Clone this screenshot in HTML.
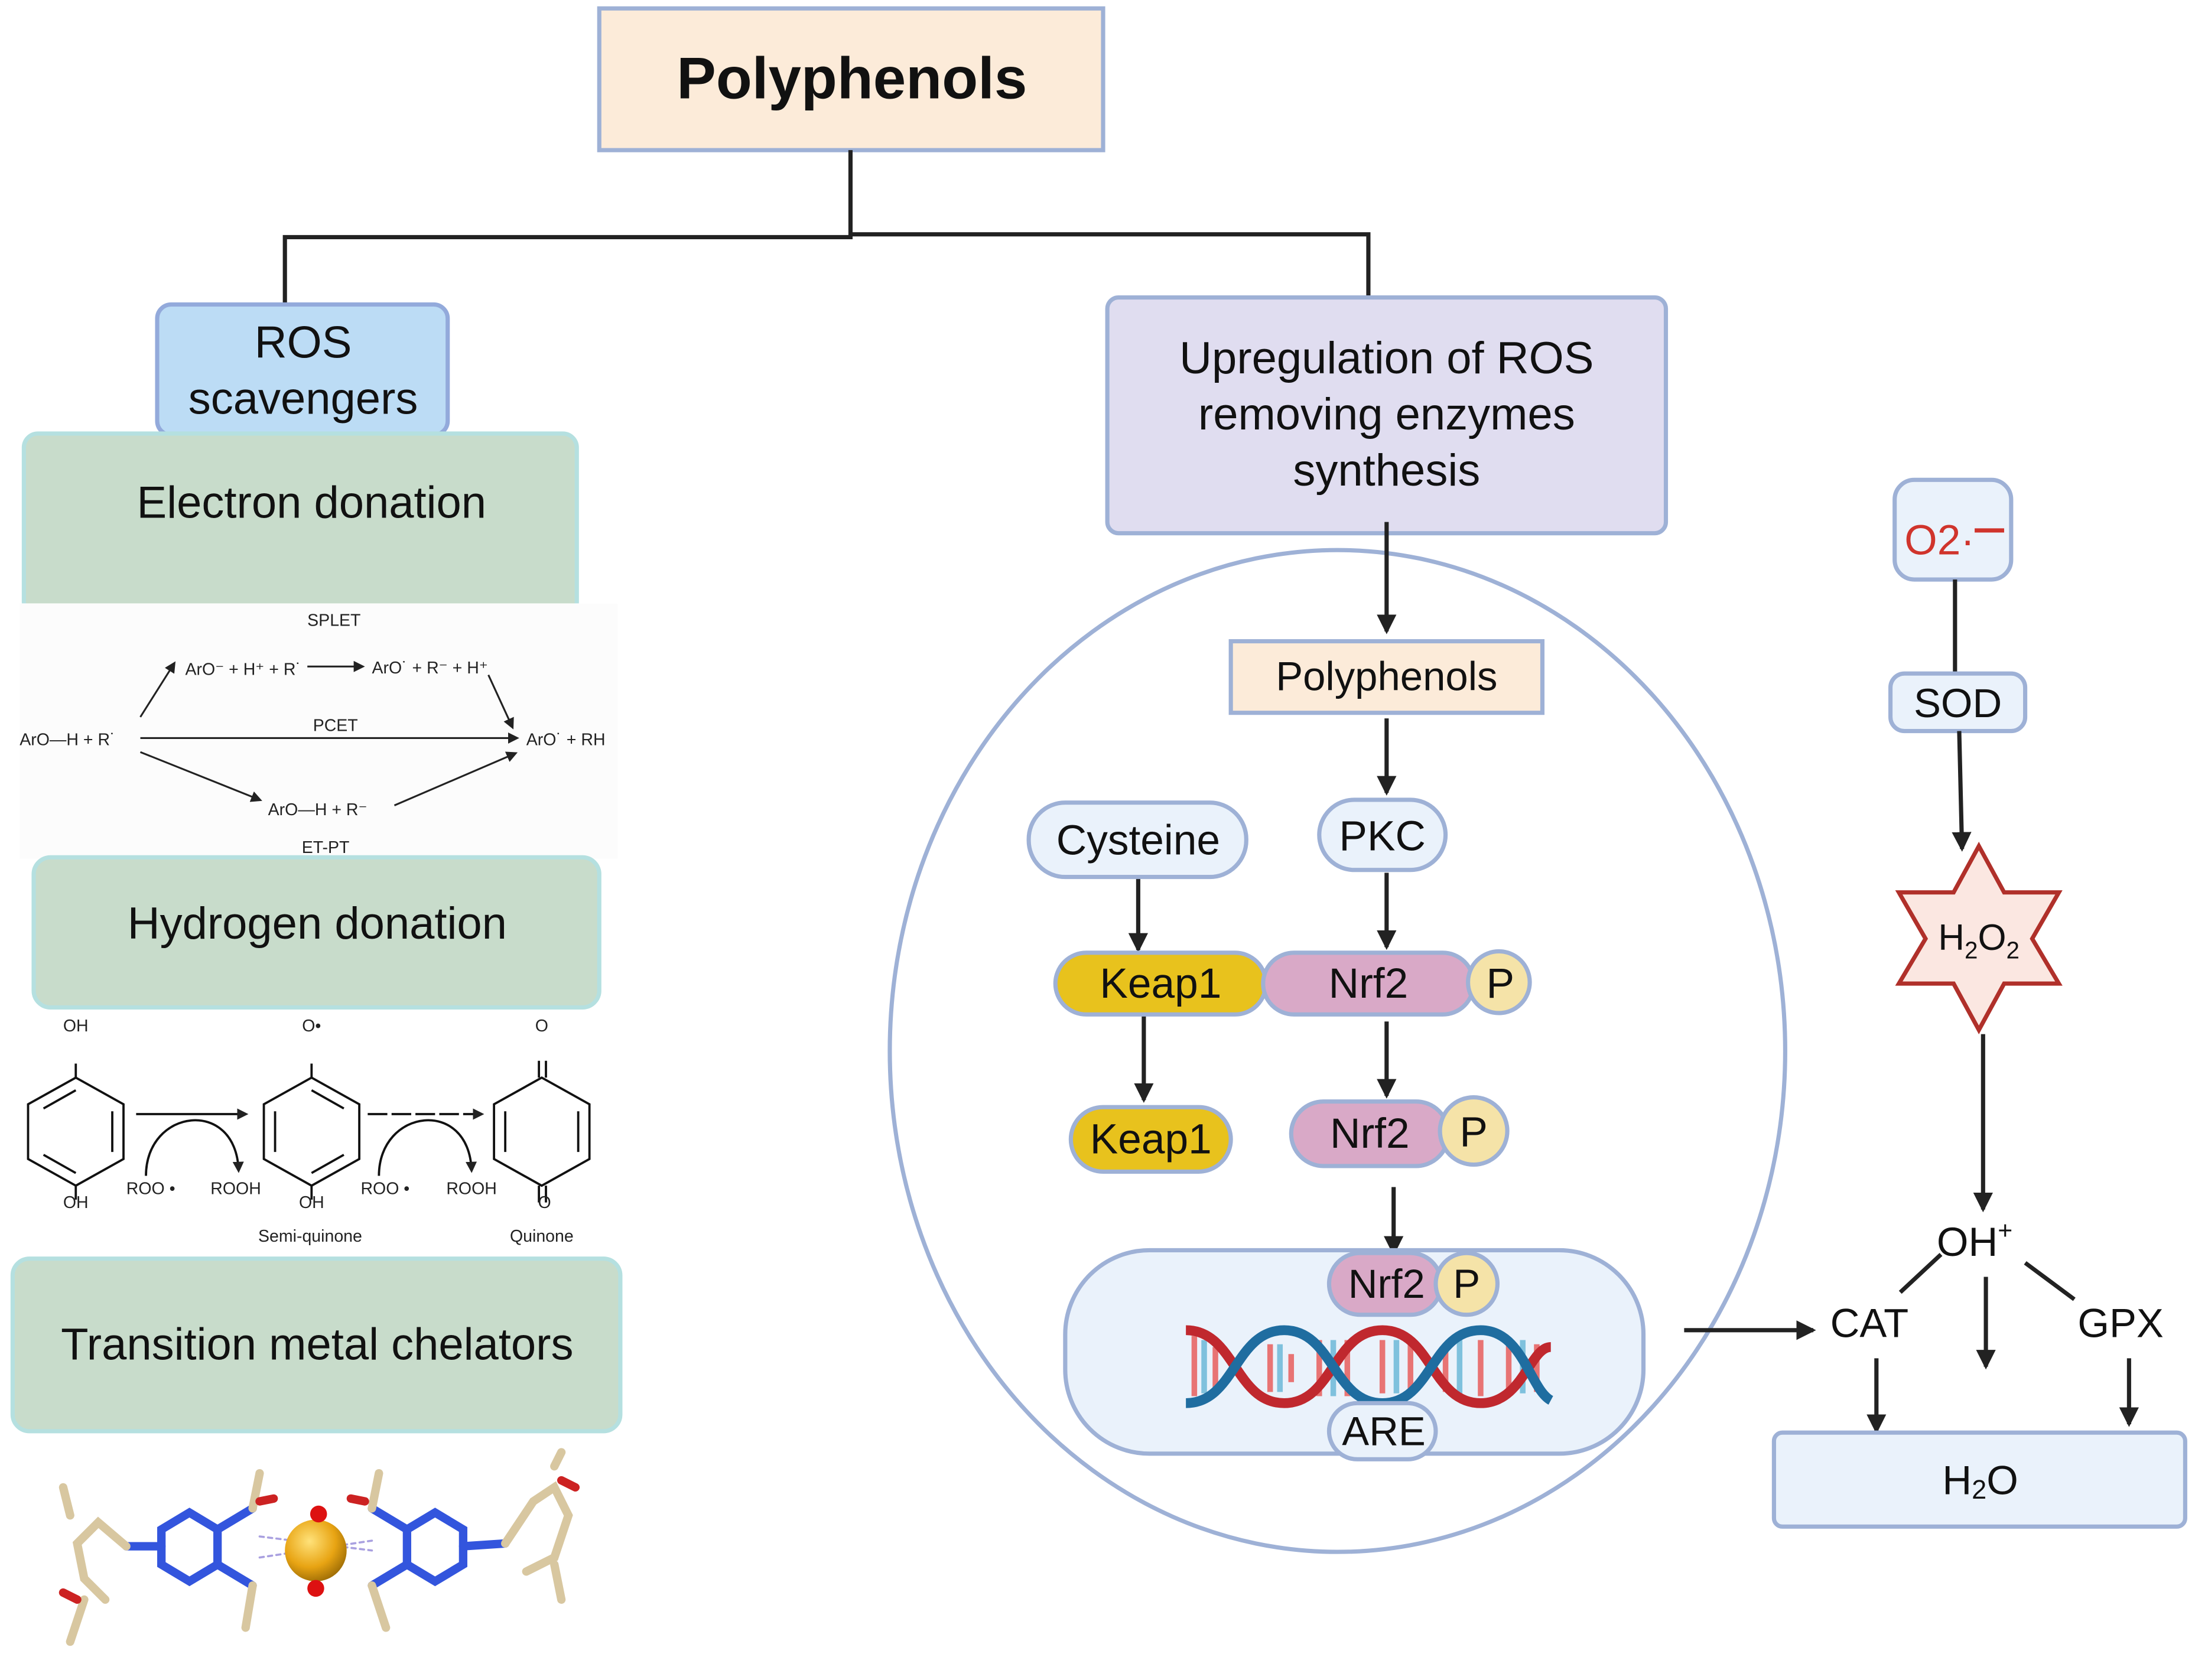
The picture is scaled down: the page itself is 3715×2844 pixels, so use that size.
<!DOCTYPE html>
<html><head><meta charset="utf-8"><style>
html,body{margin:0;padding:0;background:#fff;}
svg{display:block;}
text{font-family:"Liberation Sans",sans-serif;}
</style></head><body>
<svg width="3715" height="2844" viewBox="0 0 1564 1197.3" xmlns="http://www.w3.org/2000/svg">
<defs>
<marker id="ah" markerWidth="8" markerHeight="8" refX="6" refY="4" orient="auto" markerUnits="userSpaceOnUse"><path d="M0,0 L8,4 L0,8 Z" fill="#222"/></marker>
<marker id="as" markerWidth="14" markerHeight="14" refX="12" refY="7" orient="auto" markerUnits="userSpaceOnUse"><path d="M0,0 L14,7 L0,14 Z" fill="#222"/></marker>
<radialGradient id="gold" cx="0.4" cy="0.35" r="0.7"><stop offset="0" stop-color="#ffe27a"/><stop offset="0.6" stop-color="#e8a413"/><stop offset="1" stop-color="#9a6a05"/></radialGradient>
</defs>
<rect width="1564" height="1198" fill="#fff"/>

<rect x="427" y="6" width="359" height="101" fill="#fcebd9" stroke="#9eb1d6" stroke-width="3"/>
<text x="607" y="70" font-size="42" font-weight="bold" text-anchor="middle" fill="#111">Polyphenols</text>
<g stroke="#222" stroke-width="3" fill="none">
<path d="M606,107 V169 H203 V217"/>
<path d="M606,167 H975 V211"/>
</g>

<rect x="112" y="217" width="207" height="93" rx="10" fill="#bcdcf5" stroke="#93aadb" stroke-width="3"/>
<text x="216" y="255" font-size="32" text-anchor="middle" fill="#111">ROS</text>
<text x="216" y="295" font-size="32" text-anchor="middle" fill="#111">scavengers</text>
<rect x="17" y="309" width="394" height="130" rx="10" fill="#c8dccb" stroke="#b5e0e0" stroke-width="3"/>
<rect x="14" y="430" width="426" height="182" fill="#fcfcfc"/>
<text x="222" y="369" font-size="32" text-anchor="middle" fill="#111">Electron donation</text>

<g font-size="12" fill="#222">
<text x="238" y="446" text-anchor="middle">SPLET</text>
<text x="132" y="481">ArO⁻ + H⁺ + R˙</text>
<text x="265" y="480">ArO˙ + R⁻ + H⁺</text>
<text x="14" y="531">ArO—H  + R˙</text>
<text x="239" y="521" text-anchor="middle">PCET</text>
<text x="375" y="531">ArO˙ + RH</text>
<text x="191" y="581">ArO—H + R⁻</text>
<text x="232" y="608" text-anchor="middle">ET-PT</text>
</g>
<g stroke="#222" stroke-width="1.3" fill="none" marker-end="url(#ah)">
<path d="M100,511 L124,473"/>
<path d="M219,475 L258,475"/>
<path d="M348,481 L365,518"/>
<path d="M100,526 L368,526"/>
<path d="M100,536 L185,570"/>
<path d="M281,574 L367,537"/>
</g>

<rect x="24" y="611" width="403" height="107" rx="12" fill="#c8dccb" stroke="#b5e0e0" stroke-width="3"/>
<text x="226" y="669" font-size="32" text-anchor="middle" fill="#111">Hydrogen donation</text>

<g stroke="#111" stroke-width="1.6" fill="none">
<path d="M54,768 L88,787 L88,826 L54,845 L20,826 L20,787 Z"/>
<path d="M31,790 L54,777 M80,792 L80,821 M31,823 L54,836"/>
<path d="M54,768 V758 M54,845 V855"/>
<path d="M222,768 L256,787 L256,826 L222,845 L188,826 L188,787 Z"/>
<path d="M196,792 V821 M222,777 L245,790 M222,836 L245,823"/>
<path d="M222,768 V758 M222,845 V855"/>
<path d="M386,768 L420,787 L420,826 L386,845 L352,826 L352,787 Z"/>
<path d="M360,792 V821 M412,792 V821"/>
<path d="M384,768 V756 M389,768 V756 M384,845 V857 M389,845 V857"/>
<path d="M97,794 H175" marker-end="url(#ah)"/>
<path d="M262,794 H343" stroke-dasharray="14,3" marker-end="url(#ah)"/>
<path d="M104,838 C104,790 168,782 170,834" marker-end="url(#ah)"/>
<path d="M270,838 C270,790 334,782 336,834" marker-end="url(#ah)"/>
</g>
<g font-size="12" fill="#222">
<text x="54" y="735" text-anchor="middle">OH</text>
<text x="54" y="861" text-anchor="middle">OH</text>
<text x="222" y="735" text-anchor="middle">O•</text>
<text x="222" y="861" text-anchor="middle">OH</text>
<text x="386" y="735" text-anchor="middle">O</text>
<text x="388" y="861" text-anchor="middle">O</text>
<text x="90" y="851">ROO •</text>
<text x="150" y="851">ROOH</text>
<text x="257" y="851">ROO •</text>
<text x="318" y="851">ROOH</text>
<text x="221" y="885" text-anchor="middle">Semi-quinone</text>
<text x="386" y="885" text-anchor="middle">Quinone</text>
</g>

<rect x="9" y="897" width="433" height="123" rx="12" fill="#c8dccb" stroke="#b5e0e0" stroke-width="3"/>
<text x="226" y="969" font-size="32" text-anchor="middle" fill="#111">Transition metal chelators</text>

<g stroke-linecap="round" fill="none">
<g stroke="#3355dd" stroke-width="6">
<path d="M115,1090 L135,1078 L155,1090 L155,1115 L135,1127 L115,1115 Z"/>
<path d="M290,1090 L310,1078 L330,1090 L330,1115 L310,1127 L290,1115 Z"/>
<path d="M155,1090 L180,1075 M155,1115 L180,1130 M290,1090 L265,1075 M290,1115 L265,1130 M115,1102 L90,1102 M330,1102 L360,1100"/>
</g>
<g stroke="#d8c7a0" stroke-width="6">
<path d="M180,1075 L185,1050 M180,1130 L175,1160 M265,1075 L270,1050 M265,1130 L275,1160 M90,1102 L70,1085 L55,1100 L60,1125 L75,1140 M360,1100 L380,1070 L395,1060 L405,1080 L395,1110 L375,1120"/>
<path d="M50,1080 L45,1060 M60,1140 L50,1170 M395,1045 L400,1035 M395,1115 L400,1140"/>
</g>
<g stroke="#c22" stroke-width="6"><path d="M185,1070 L195,1068 M260,1070 L250,1068 M45,1135 L55,1140 M400,1055 L410,1060"/></g>
<path d="M185,1095 L265,1105 M185,1110 L265,1098" stroke="#a9a0e0" stroke-width="1.5" stroke-dasharray="3,3"/>
</g>
<circle cx="225" cy="1105" r="22" fill="url(#gold)"/>
<circle cx="227" cy="1079" r="6" fill="#d11"/>
<circle cx="225" cy="1132" r="6" fill="#d11"/>

<ellipse cx="953" cy="749" rx="319" ry="357" fill="none" stroke="#9eb1d6" stroke-width="3"/>
<rect x="789" y="212" width="398" height="168" rx="8" fill="#e0ddf0" stroke="#9eb1d6" stroke-width="3"/>
<g font-size="32" text-anchor="middle" fill="#111">
<text x="988" y="266">Upregulation of ROS</text>
<text x="988" y="306">removing enzymes</text>
<text x="988" y="346">synthesis</text>
</g>
<g stroke="#222" stroke-width="3" fill="none" marker-end="url(#as)">
<path d="M988,372 V450"/>
<path d="M988,512 V565"/>
<path d="M811,625 V677"/>
<path d="M988,622 V675"/>
<path d="M815,724 V784"/>
<path d="M988,728 V781"/>
<path d="M993,846 V893"/>
<path d="M1200,948 H1292"/>
</g>
<rect x="877" y="457" width="222" height="51" fill="#fcebd9" stroke="#9eb1d6" stroke-width="3"/>
<text x="988" y="492" font-size="29" text-anchor="middle" fill="#111">Polyphenols</text>

<g stroke="#9eb1d6" stroke-width="3">
<rect x="733" y="572" width="155" height="53" rx="26" fill="#eaf2fb"/>
<rect x="940" y="570" width="90" height="50" rx="25" fill="#eaf2fb"/>
<rect x="752" y="679" width="150" height="44" rx="22" fill="#e8c21d"/>
<rect x="900" y="679" width="150" height="44" rx="22" fill="#d9a9c7"/>
<circle cx="1068" cy="700" r="22" fill="#f5e3a8"/>
<rect x="763" y="789" width="114" height="46" rx="23" fill="#e8c21d"/>
<rect x="920" y="785" width="112" height="46" rx="23" fill="#d9a9c7"/>
<circle cx="1050" cy="806" r="24" fill="#f5e3a8"/>
<rect x="759" y="891" width="412" height="145" rx="60" fill="#eaf2fb"/>
</g>
<g font-size="30" text-anchor="middle" fill="#111">
<text x="811" y="609">Cysteine</text>
<text x="985" y="606">PKC</text>
<text x="827" y="711">Keap1</text>
<text x="975" y="711">Nrf2</text>
<text x="1069" y="711">P</text>
<text x="820" y="822">Keap1</text>
<text x="976" y="818">Nrf2</text>
<text x="1050" y="817">P</text>
</g>

<g fill="none">
<g stroke-width="4">
<path d="M851,952 V995 M866,960 V990 M905,958 V992 M920,965 V985 M940,955 V995 M960,955 V995 M985,955 V993 M1005,958 V992 M1030,958 V992 M1055,955 V995 M1075,955 V993 M1095,958 V992" stroke="#e87474"/>
<path d="M858,955 V993 M912,958 V992 M950,955 V995 M995,955 V993 M1040,955 V993 M1085,955 V993" stroke="#7fc1dd"/>
</g>
<path d="M845,948 C880,948 880,1000 915,1000 C950,1000 950,948 985,948 C1020,948 1020,1000 1055,1000 C1085,1000 1090,960 1105,960" stroke="#c0282e" stroke-width="7"/>
<path d="M845,1000 C880,1000 880,948 915,948 C950,948 950,1000 985,1000 C1020,1000 1020,948 1055,948 C1085,948 1090,990 1105,998" stroke="#1f6da0" stroke-width="7"/>
</g>
<g stroke="#9eb1d6" stroke-width="3">
<rect x="947" y="893" width="80" height="44" rx="22" fill="#d9a9c7"/>
<circle cx="1045" cy="915" r="22" fill="#f5e3a8"/>
<rect x="947" y="1000" width="76" height="40" rx="20" fill="#eaf2fb"/>
</g>
<g font-size="29" text-anchor="middle" fill="#111">
<text x="988" y="925">Nrf2</text>
<text x="1045" y="925">P</text>
<text x="986" y="1030">ARE</text>
</g>

<rect x="1350" y="342" width="83" height="71" rx="14" fill="#eaf2fb" stroke="#9eb1d6" stroke-width="3"/>
<text x="1357" y="395" font-size="30" fill="#d0342c">O2·</text>
<path d="M1407,378 H1428" stroke="#d0342c" stroke-width="3"/>
<path d="M1393,413 V480" stroke="#222" stroke-width="3"/>
<rect x="1347" y="480" width="96" height="41" rx="10" fill="#eaf2fb" stroke="#9eb1d6" stroke-width="3"/>
<text x="1395" y="511" font-size="29" text-anchor="middle" fill="#111">SOD</text>
<g stroke="#222" stroke-width="3" fill="none">
<path d="M1396,521 L1398,605" marker-end="url(#as)"/>
<path d="M1413,737 V862" marker-end="url(#as)"/>
<path d="M1415,910 V974" marker-end="url(#as)"/>
<path d="M1337,968 V1020" marker-end="url(#as)"/>
<path d="M1517,968 V1015" marker-end="url(#as)"/>
<path d="M1383,894 L1354,921 M1443,900 L1478,926"/>
</g>
<polygon points="1410,603 1428,636 1467,636 1448,669 1467,701 1428,701 1410,734 1392,701 1353,701 1372,669 1353,636 1392,636" fill="#fbe7e1" stroke="#b0302a" stroke-width="3"/>
<text x="1410" y="677" font-size="26" text-anchor="middle" fill="#111">H<tspan font-size="17" dy="6">2</tspan><tspan dy="-6">O</tspan><tspan font-size="17" dy="6">2</tspan></text>
<g font-size="29" fill="#111" text-anchor="middle">
<text x="1407" y="895">OH<tspan font-size="18" dy="-12">+</tspan></text>
<text x="1332" y="953">CAT</text>
<text x="1511" y="953">GPX</text>
</g>
<rect x="1264" y="1021" width="293" height="67" rx="6" fill="#eaf2fb" stroke="#9eb1d6" stroke-width="3"/>
<text x="1411" y="1065" font-size="29" text-anchor="middle" fill="#111">H<tspan font-size="19" dy="3">2</tspan><tspan dy="-3">O</tspan></text>
</svg>
</body></html>
